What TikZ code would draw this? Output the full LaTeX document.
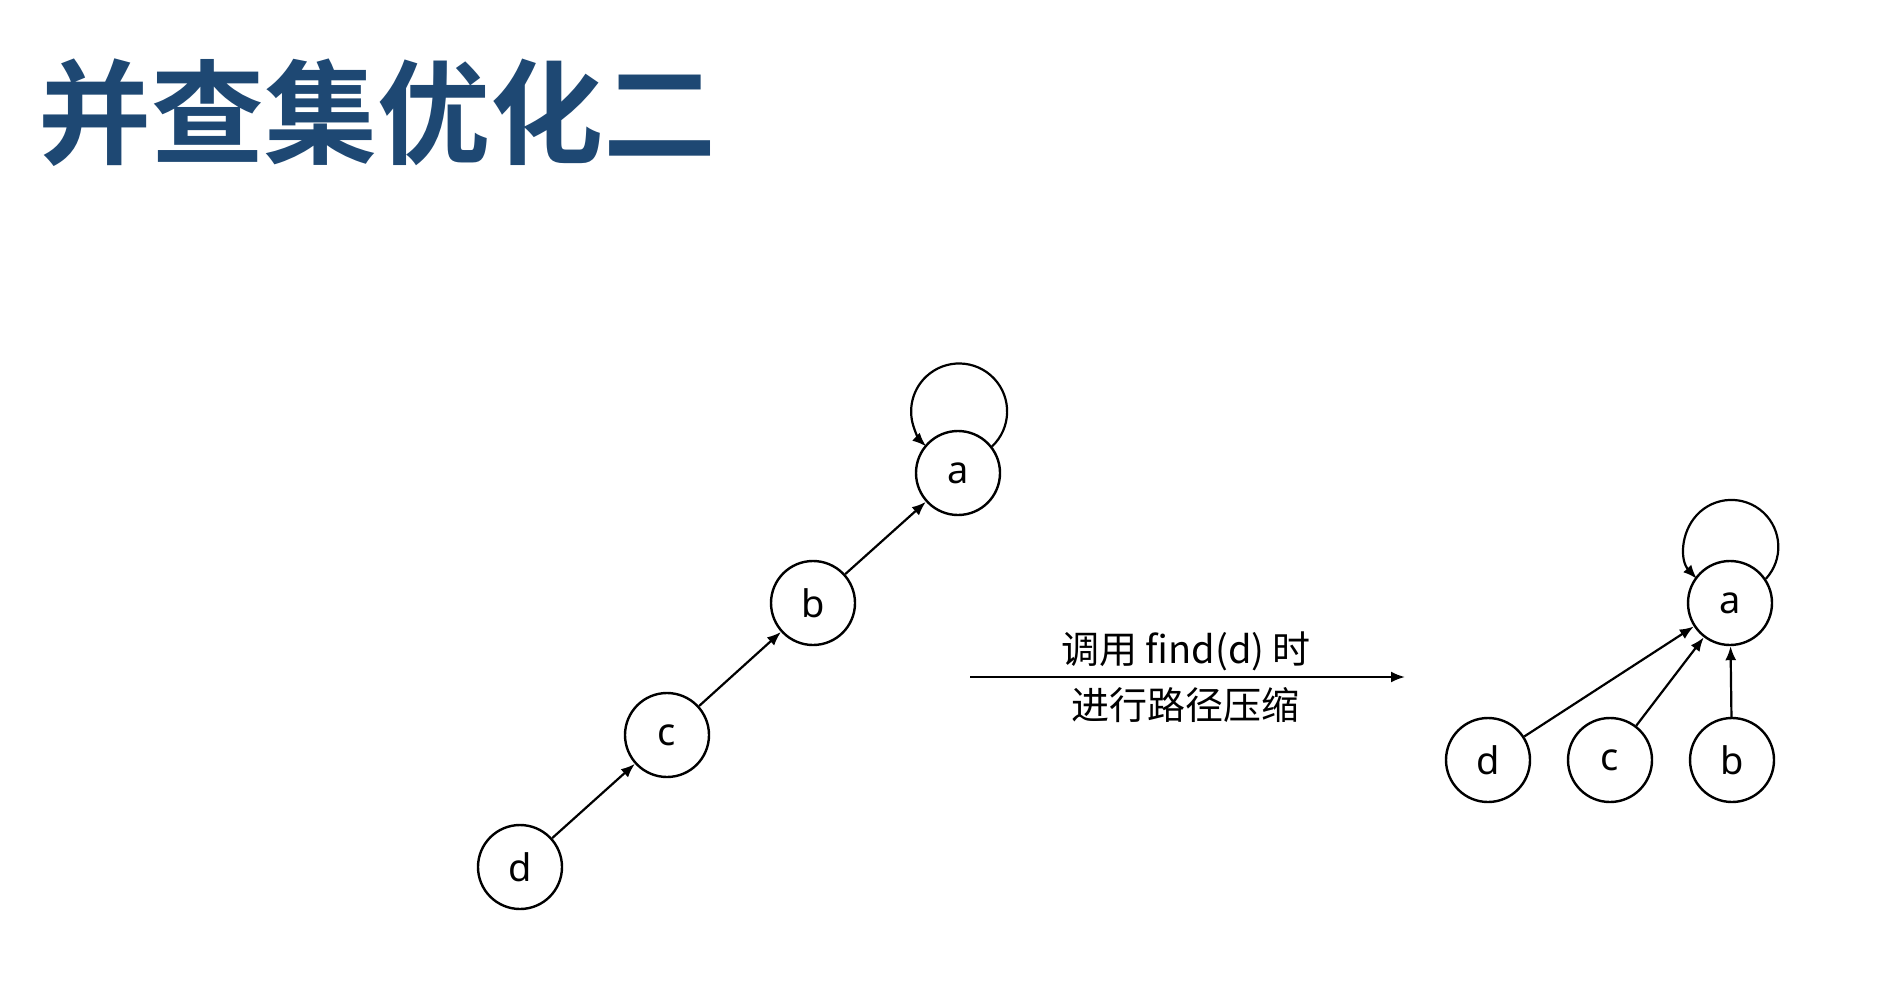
\documentclass[tikz,border=0pt]{standalone}
\usepackage{fontspec}
\setmainfont{Noto Sans}
\newfontfamily\cjk{Noto Sans CJK SC}
\newfontfamily\cjkbold{Noto Sans CJK SC Bold}
\usetikzlibrary{arrows.meta}
\definecolor{titleblue}{RGB}{30,72,115}
\begin{document}
\begin{tikzpicture}[x=1pt,y=-1pt,
  vert/.style={circle,draw,line width=2.4pt,minimum size=84pt,inner sep=0pt,font=\fontsize{38}{44}\selectfont},
  edge/.style={line width=2.2pt,-{Latex[length=14pt,width=11pt]}},
  lbl/.style={font=\cjk\fontsize{38}{44}\selectfont,inner sep=0pt}]
\useasboundingbox[fill=white] (0,0) rectangle (1902,982);
\node[anchor=west,inner sep=0pt,text=titleblue,font=\cjkbold\fontsize{113}{120}\selectfont] (title) at (38,113) {并查集优化二};
% left chain
\node[vert] (dL) at (520,867) {d};
\node[vert] (cL) at (667,735) {c};
\node[vert] (bL) at (813,603) {b};
\node[vert] (aL) at (958,473) {a};
\draw[edge] (dL) -- (cL);
\draw[edge] (cL) -- (bL);
\draw[edge] (bL) -- (aL);
\draw[edge] (aL.38.4) arc[start angle=46.7, end angle=-226.7, radius=48];
% middle arrow
\coordinate (s) at (970,677);
\coordinate (e) at (1405,677);
\draw[edge] (s) -- (e);
\node[lbl] (t1) at (1186,651) {调用 find(d) 时};
\node[lbl] (t2) at (1185,705) {进行路径压缩};
% right tree
\node[vert] (aR) at (1730,603) {a};
\node[vert] (dR) at (1488,760) {d};
\node[vert] (cR) at (1610,760) {c};
\node[vert] (bR) at (1732,760) {b};
\draw[edge] (dR) -- (aR);
\draw[edge] (cR) -- (aR);
\draw[edge] (bR) -- (aR);
\draw[edge] (aR.34.8) arc[start angle=42.8, end angle=-222.8, radius=47];
\end{tikzpicture}
\end{document}
